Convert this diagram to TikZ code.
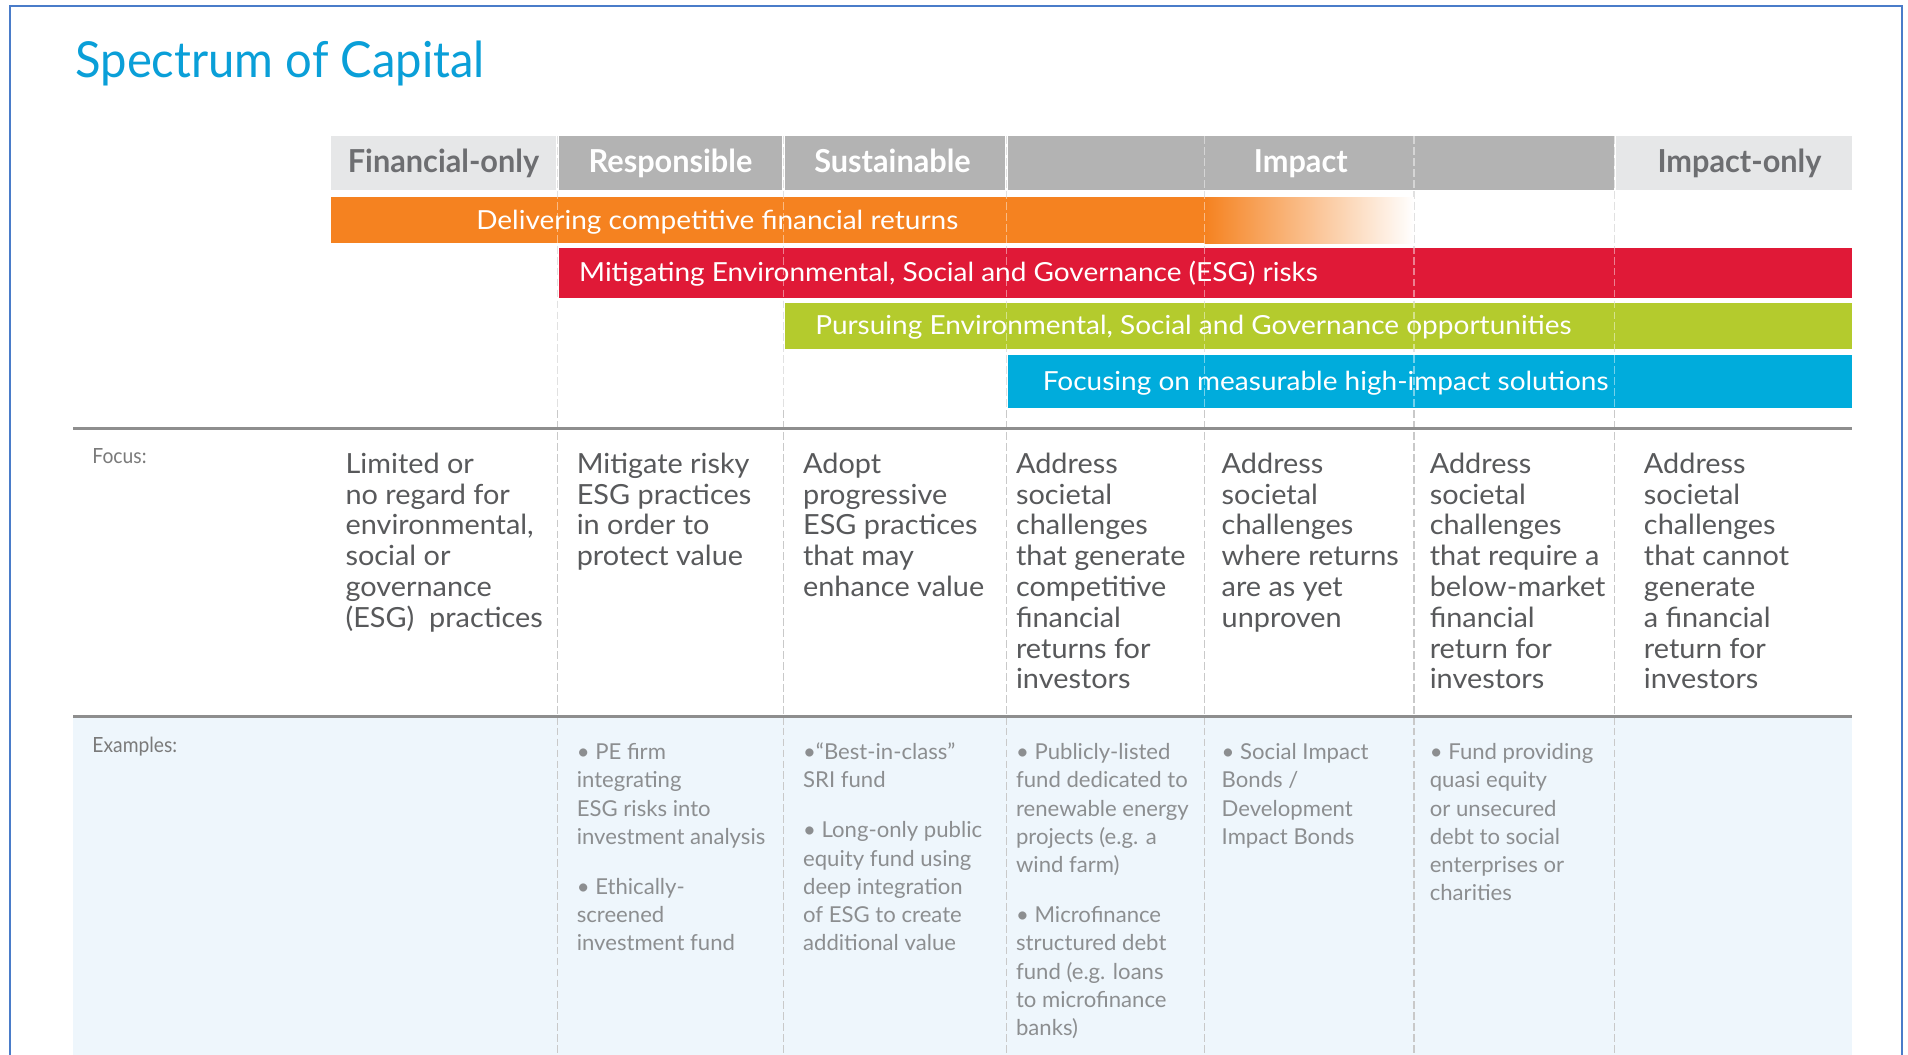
\documentclass[tikz,border=0pt]{standalone}
\usepackage{fontspec}
\setmainfont{Lato}
\newfontfamily\titlef[FakeStretch=0.95]{Lato}
\newfontfamily\hdf[FakeStretch=0.97]{Lato}
\newfontfamily\barf[FakeStretch=1.065]{Lato}
\newfontfamily\focf[FakeStretch=1.04]{Lato}
\newfontfamily\exf[FakeStretch=1.01]{Lato}
\newfontfamily\labf[FakeStretch=0.92]{Lato}
\usetikzlibrary{shadings}
\definecolor{titlecyan}{HTML}{0A9FD8}
\definecolor{hdlight}{HTML}{E6E7E8}
\definecolor{hdmid}{HTML}{B3B3B3}
\definecolor{hdtext}{HTML}{6D6E71}
\definecolor{barorange}{HTML}{F58220}
\definecolor{barred}{HTML}{E01937}
\definecolor{bargreen}{HTML}{B4CB2D}
\definecolor{barblue}{HTML}{00ACDC}
\definecolor{exbg}{HTML}{EEF6FC}
\definecolor{focustext}{HTML}{58595B}
\definecolor{extext}{HTML}{8C8E90}
\definecolor{labeltext}{HTML}{7A7A7A}
\definecolor{rulegray}{HTML}{8E8E8E}
\definecolor{dashgray}{HTML}{C9C9C9}
\definecolor{frameblue}{HTML}{4A7CC9}
\tikzset{
  cell/.style={anchor=north west, draw=none, inner sep=0pt, outer sep=0pt},
  hdtxt/.style={anchor=base, font=\hdf\bfseries\fontsize{13}{15}\selectfont},
  bartxt/.style={font=\barf\fontsize{10.8}{12}\selectfont, text=white},
  focustxt/.style={anchor=north west, align=left, text=focustext, font=\focf\fontsize{11.4}{12.65}\selectfont},
  extxt/.style={anchor=north west, align=left, text=extext, font=\exf\fontsize{9}{11.6}\selectfont},
  rowlabel/.style={anchor=base west, text=labeltext, font=\labf\fontsize{8.6}{10}\selectfont},
  divider/.style={dashgray, line width=0.45pt, dash pattern=on 3.2pt off 1.3pt},
  overdash/.style={white, opacity=0.45, line width=0.45pt, dash pattern=on 3.2pt off 1.3pt},
  hrule/.style={rulegray, line width=1.3pt}
}
\begin{document}
\begin{tikzpicture}[x=0.5pt,y=-0.5pt, every node/.style={inner sep=0pt, outer sep=0pt}]
\useasboundingbox (0,0) rectangle (1568,867);
\fill[white] (0,0) rectangle (1568,867);
% frame
\draw[frameblue, line width=1pt] (8,867) -- (8,5) -- (1563,5) -- (1563,867);
% title
\node[anchor=base west, text=titlecyan, font=\titlef\fontsize{20.4}{24}\selectfont] (title) at (62,63.5) {Spectrum of Capital};
% examples background
\fill[exbg] (60,589.5) rectangle (1522,867);
% dashed dividers (behind)
\foreach \xx/\nm in {458/d1,644/d2,827/d3,990/d4,1162/d5,1327/d6}{
  \coordinate (\nm top) at (\xx,112);
  \coordinate (\nm bot) at (\xx,867);
  \draw[divider] (\nm top) -- (\nm bot);
}
% header cells
\node[cell, fill=hdlight, minimum width=92.5pt, minimum height=22.25pt] (cfin) at (272,112) {};
\node[cell, fill=hdmid, minimum width=92pt, minimum height=22.25pt] (cres) at (459,112) {};
\node[cell, fill=hdmid, minimum width=90.5pt, minimum height=22.25pt] (csus) at (645,112) {};
\node[cell, fill=hdmid, minimum width=249pt, minimum height=22.25pt] (cimp) at (828,112) {};
\node[cell, fill=hdlight, minimum width=97pt, minimum height=22.25pt] (cimo) at (1328,112) {};
\node[hdtxt, text=hdtext] (tfin) at (364.5,142) {Financial-only};
\node[hdtxt, text=white] (tres) at (551,142) {Responsible};
\node[hdtxt, text=white] (tsus) at (733.5,142) {Sustainable};
\node[hdtxt, text=white] (timp) at (1069,142) {Impact};
\node[hdtxt, text=hdtext] (timo) at (1429.5,142) {Impact-only};
% bars
\node[cell, fill=barorange, minimum width=359pt, minimum height=19pt] (borange) at (272,162) {};
\shade[left color=barorange, right color=white] (990,162) rectangle (1162,200);
\node[cell, fill=barred, minimum width=531.5pt, minimum height=20.75pt] (bred) at (459,203.5) {};
\node[cell, fill=bargreen, minimum width=438.5pt, minimum height=19.15pt] (bgreen) at (645,248.7) {};
\node[cell, fill=barblue, minimum width=347pt, minimum height=21.8pt] (bblue) at (828,292) {};
\node[bartxt, anchor=base] (torange) at (589.5,188.5) {Delivering competitive financial returns};
\node[bartxt, anchor=base west] (tred) at (476,231.5) {Mitigating Environmental, Social and Governance (ESG) risks};
\node[bartxt, anchor=base west] (tgreen) at (670,275.3) {Pursuing Environmental, Social and Governance opportunities};
\node[bartxt, anchor=base west] (tblue) at (857,321) {Focusing on measurable high-impact solutions};
% faint dashes over coloured areas
\foreach \xx in {458,644,827,990,1162,1327}{
  \draw[overdash] (\xx,112) -- (\xx,335);
}
% rules
\coordinate (r1a) at (60,352); \coordinate (r1b) at (1522,352);
\coordinate (r2a) at (60,588.5); \coordinate (r2b) at (1522,588.5);
\draw[hrule] (r1a) -- (r1b);
\draw[hrule] (r2a) -- (r2b);
% row labels
\node[rowlabel] (lfocus) at (76,380.8) {Focus:};
\node[rowlabel] (lex) at (76,618.6) {Examples:};
% focus texts
\node[focustxt] (f1) at (284,371.3) {\strut Limited or\\no regard for\\environmental,\\social or\\governance\\(ESG)\ \ practices};
\node[focustxt] (f2) at (474,371.3) {\strut Mitigate risky\\ESG practices\\in order to\\protect value};
\node[focustxt] (f3) at (660,371.3) {\strut Adopt\\progressive\\ESG practices\\that may\\enhance value};
\node[focustxt] (f4) at (835,371.3) {\strut Address\\societal\\challenges\\that generate\\competitive\\financial\\returns for\\investors};
\node[focustxt] (f5) at (1004,371.3) {\strut Address\\societal\\challenges\\where returns\\are as yet\\unproven};
\node[focustxt] (f6) at (1175,371.3) {\strut Address\\societal\\challenges\\that require a\\below-market\\financial\\return for\\investors};
\node[focustxt] (f7) at (1351,371.3) {\strut Address\\societal\\challenges\\that cannot\\generate\\a financial\\return for\\investors};
% examples texts
\node[extxt] (e2) at (474,608) {\strut • PE firm\\integrating\\ESG risks into\\investment analysis\\[9pt]• Ethically-\\screened\\investment fund};
\node[extxt] (e3) at (660,608) {\strut •“Best-in-class”\\SRI fund\\[9pt]• Long-only public\\equity fund using\\deep integration\\of ESG to create\\additional value};
\node[extxt] (e4) at (835,608) {\strut • Publicly-listed\\fund dedicated to\\renewable energy\\projects (e.g. a\\wind farm)\\[9pt]• Microfinance\\structured debt\\fund (e.g. loans\\to microfinance\\banks)};
\node[extxt] (e5) at (1004,608) {\strut • Social Impact\\Bonds /\\Development\\Impact Bonds};
\node[extxt] (e6) at (1175,608) {\strut • Fund providing\\quasi equity\\or unsecured\\debt to social\\enterprises or\\charities};
\end{tikzpicture}
\end{document}
